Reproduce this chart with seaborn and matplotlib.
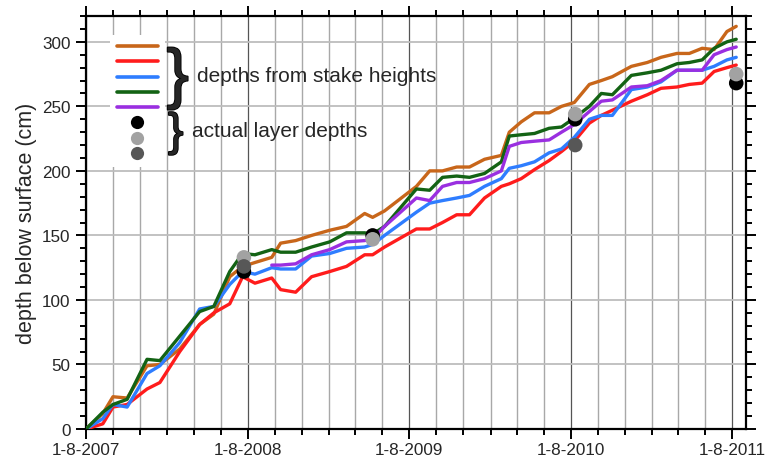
import pandas as pd
import numpy as np
import matplotlib
matplotlib.use("Agg")
import matplotlib.pyplot as plt
import matplotlib.dates as mdates
import matplotlib.patheffects as pe
from matplotlib.lines import Line2D
import seaborn as sns

# ----------------------------
# Data
# ----------------------------
dates = ["2007-08-01", "2007-09-08", "2007-10-01", "2007-11-02", "2007-12-17",
         "2008-01-15", "2008-02-29", "2008-04-14", "2008-05-16", "2008-06-21",
         "2008-07-20", "2008-08-17", "2008-09-24", "2008-10-14", "2008-11-17",
         "2008-12-23", "2009-02-02", "2009-03-12", "2009-04-22", "2009-05-10",
         "2009-06-06", "2009-08-17", "2009-09-16", "2009-10-15", "2009-11-16",
         "2009-12-15", "2010-01-18", "2010-02-25", "2010-03-15", "2010-04-11",
         "2010-05-11", "2010-06-13", "2010-07-11", "2010-08-09", "2010-09-12",
         "2010-10-09", "2010-11-03", "2010-12-16", "2011-01-21", "2011-02-21",
         "2011-03-29", "2011-04-26", "2011-05-25", "2011-06-21", "2011-07-20",
         "2011-08-10"]

stake_orange = [0, 12, 25, 24, 49, 50, 62, 81, 89, 118, 126, 129, 133, 144, 146,
                150, 154, 157, 167, 164, 169, 188, 200, 200, 203, 203, 209, 212, 230,
                238, 245, 245, 250, 253, 267, 270, 273, 281, 284, 288, 291, 291, 295,
                294, 308, 312]
stake_red = [0, 4, 17, 19, 31, 36, 60, 81, 90, 97, 118, 113, 117, 108, 106,
             118, 122, 126, 135, 135, 141, 155, 155, 160, 166, 166, 179, 188, 190,
             194, 201, 208, 215, 223, 237, 243, 247, 254, 259, 264, 265, 267, 268,
             277, 280, 282]
stake_blue = [0, 8, 19, 17, 43, 49, 67, 93, 95, 112, 122, 120, 125, 124, 124,
              134, 136, 140, 141, 143, 150, 168, 175, 177, 179, 181, 188, 194, 202,
              204, 207, 214, 217, 226, 240, 243, 243, 263, 265, 269, 278, 278, 278,
              281, 286, 288]
stake_green = [0, 13, 19, 23, 54, 53, 72, 91, 95, 122, 136, 135, 139, 137, 137,
               141, 145, 152, 152, 151, 157, 186, 185, 195, 196, 195, 198, 207, 227,
               228, 229, 233, 234, 241, 250, 260, 259, 274, 276, 278, 283, 284, 286,
               295, 300, 302]
stake_purple = [np.nan] * 12 + [127, 127, 128,
                135, 139, 145, 146, 147, 157, 179, 177, 188, 191, 191, 194, 200, 219,
                222, 223, 224, 230, 236, 246, 254, 255, 265, 266, 270, 278, 278, 278,
                290, 294, 296]

series_names = ["orange", "red", "blue", "green", "purple"]
series_colors = ["#C8661A", "#FF1C1C", "#2E7DFF", "#136314", "#9A2FE0"]

layer_dates = ["2008-07-23", "2009-05-10", "2010-08-11", "2011-08-10"]
layer_black = [122, 150, 240, 268]
layer_light = [133, 147, 244, 275]
layer_dark = [126, np.nan, 220, np.nan]
layer_colors = ["#000000", "#A2A2A2", "#575757"]

# ----------------------------
# Long-form tables
# ----------------------------
stake_df = pd.DataFrame({
    "date": pd.to_datetime(dates * 5),
    "depth": stake_orange + stake_red + stake_blue + stake_green + stake_purple,
    "series": np.repeat(series_names, len(dates)),
}).dropna()

layer_df = pd.DataFrame({
    "date": pd.to_datetime(layer_dates * 3),
    "depth": layer_black + layer_light + layer_dark,
    "layer": np.repeat(["black", "light", "dark"], len(layer_dates)),
}).dropna()

# ----------------------------
# General Settings
# ----------------------------
sns.set_style("white")
plt.rcParams["font.family"] = ["Liberation Sans", "DejaVu Sans"]

fig = plt.figure(figsize=(7.65, 4.6), dpi=100)
ax = fig.add_axes([0.1124, 0.0652, 0.8627, 0.8978])

sns.lineplot(data=stake_df, x="date", y="depth", hue="series",
             palette=dict(zip(series_names, series_colors)),
             linewidth=2.4, legend=False, ax=ax, zorder=3)

sns.scatterplot(data=layer_df, x="date", y="depth", hue="layer",
                palette=dict(zip(["black", "light", "dark"], layer_colors)),
                s=110, linewidth=0, legend=False, ax=ax, zorder=4)

# ----------------------------
# Axes, ticks, grid
# ----------------------------
ax.set_xlim(pd.Timestamp("2007-08-01"), pd.Timestamp("2011-09-01"))
ax.set_ylim(0, 320)

ax.xaxis.set_major_locator(mdates.YearLocator(month=8, day=1))
ax.xaxis.set_minor_locator(mdates.MonthLocator(bymonth=[2, 4, 6, 8, 10, 12]))
ax.xaxis.set_major_formatter(
    plt.FuncFormatter(lambda v, p: "%d-%d-%d" % (mdates.num2date(v).day,
                                                 mdates.num2date(v).month,
                                                 mdates.num2date(v).year)))
ax.yaxis.set_major_locator(plt.MultipleLocator(50))
ax.yaxis.set_minor_locator(plt.MultipleLocator(10))

ax.grid(which="major", axis="y", color="#BDBDBD", linewidth=1.3, zorder=0)
ax.grid(which="minor", axis="x", color="#A8A8A8", linewidth=1.0, zorder=0)
ax.grid(which="major", axis="x", color="#555555", linewidth=0.9, zorder=0)

for sp in ax.spines.values():
    sp.set_linewidth(1.6)
    sp.set_color("black")

ax.tick_params(which="both", top=True, right=True, bottom=True, left=True,
               direction="out", color="black", width=1.4, labelsize=12.3)
ax.tick_params(which="major", length=7)
ax.tick_params(which="minor", length=4.5)
ax.tick_params(axis="x", pad=2.5)
ax.tick_params(axis="y", pad=4)
ax.tick_params(axis="y", which="both", right=True, direction="inout")
ax.tick_params(axis="y", which="both", left=True, direction="out")

ax.set_xlabel("")
ax.set_ylabel("depth below surface (cm)", fontsize=15.5, labelpad=4)

# ----------------------------
# Legend with braces
# ----------------------------
handles = [Line2D([], [], color=c, linewidth=2.6) for c in series_colors]
handles += [Line2D([], [], linestyle="", marker="o", markersize=9.5,
                   markerfacecolor=c, markeredgewidth=0) for c in layer_colors]
leg = ax.legend(handles, [""] * len(handles), loc="upper left",
                bbox_to_anchor=(0.036, 0.955), frameon=True, fancybox=False,
                fontsize=9, handlelength=3.3, handletextpad=0,
                labelspacing=0.26, borderpad=0.55, borderaxespad=0)
leg.get_frame().set_facecolor("white")
leg.get_frame().set_edgecolor("none")
leg.get_frame().set_alpha(1)
leg.set_zorder(5)

brace_fx = [pe.withStroke(linewidth=1.3, foreground="black")]
ax.text(0.139, 0.848, "}", transform=ax.transAxes, fontsize=48,
        ha="center", va="center", zorder=6, path_effects=brace_fx)
ax.text(0.168, 0.855, "depths from stake heights", transform=ax.transAxes,
        fontsize=15, ha="left", va="center", zorder=6)
ax.text(0.136, 0.716, "}", transform=ax.transAxes, fontsize=33,
        ha="center", va="center", zorder=6, path_effects=brace_fx)
ax.text(0.161, 0.724, "actual layer depths", transform=ax.transAxes,
        fontsize=15, ha="left", va="center", zorder=6)

fig.savefig("out.png", dpi=100)
